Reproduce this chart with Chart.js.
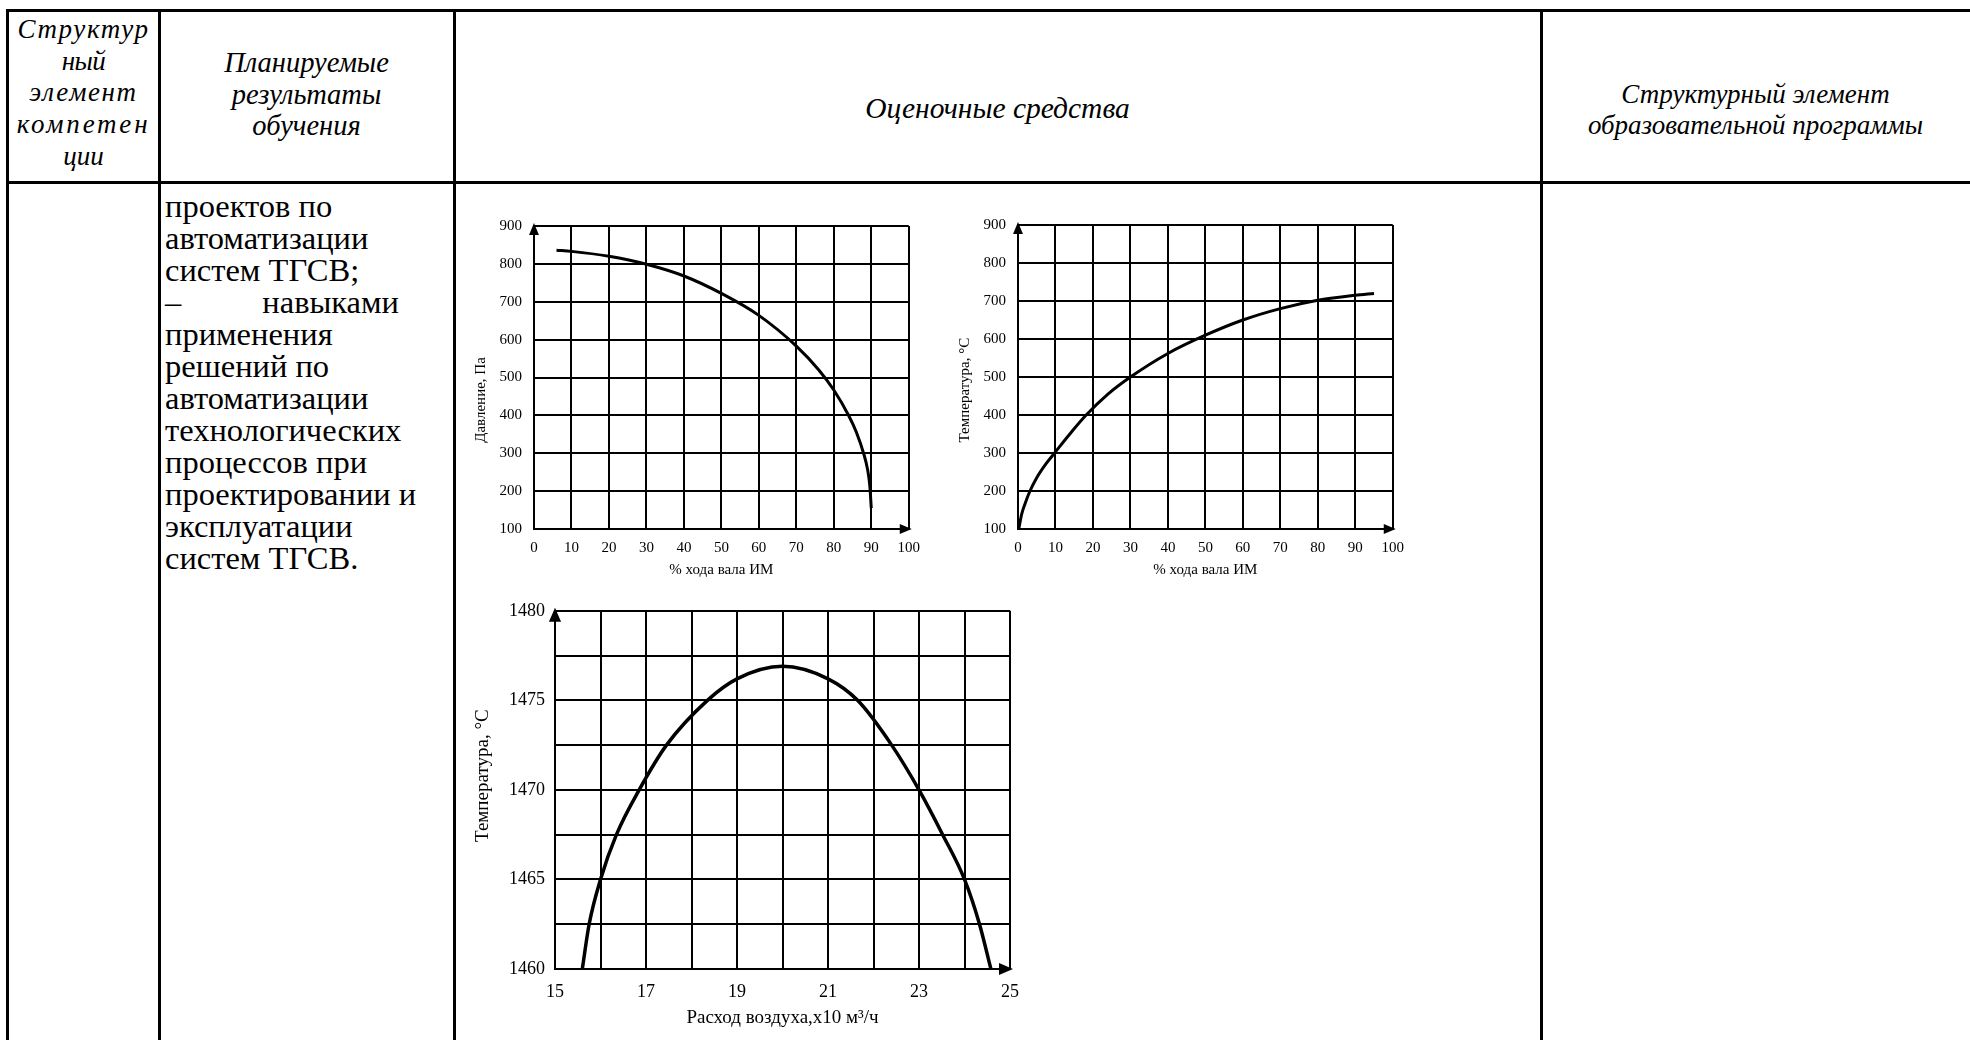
<!DOCTYPE html>
<html lang="ru">
<head>
<meta charset="utf-8">
<title>Оценочные средства</title>
<script src="https://cdn.jsdelivr.net/npm/chart.js@4.4.1/dist/chart.umd.min.js"></script>
<style>
  html, body { margin: 0; padding: 0; background: #fff; }
  #page { position: relative; width: 1970px; height: 1040px; overflow: hidden;
          font-family: 'Liberation Serif', 'Times New Roman', serif; color: #000; }
  .hl { position: absolute; height: 3px; background: #000; }
  .vl { position: absolute; width: 3px; background: #000; }
  .txt { position: absolute; white-space: nowrap; }
  .it { font-style: italic; font-size: 27px; line-height: 31.7px; text-align: center; }
  .body { font-size: 32.5px; line-height: 32px; }
  .box { position: absolute; }
</style>
</head>
<body>
<div id="page">
  <!-- рамка таблицы -->
  <div class="hl" style="left:6px;top:9px;width:1964px"></div>
  <div class="hl" style="left:6px;top:181px;width:1964px"></div>
  <div class="vl" style="left:6px;top:9px;height:1031px"></div>
  <div class="vl" style="left:158px;top:9px;height:1031px"></div>
  <div class="vl" style="left:453px;top:9px;height:1031px"></div>
  <div class="vl" style="left:1540px;top:9px;height:1031px"></div>

  <!-- шапка -->
  <div class="txt it" style="left:8px;width:151px;top:14px">
    <div style="letter-spacing:1.6px">Структур</div>
    <div style="letter-spacing:-0.5px">ный</div>
    <div style="letter-spacing:1.6px">элемент</div>
    <div style="letter-spacing:2.8px">компетен</div>
    <div>ции</div>
  </div>
  <div class="txt it" style="left:159px;width:295px;top:47px;font-size:28.5px">Планируемые<br>результаты<br>обучения</div>
  <div class="txt it" style="left:454px;width:1087px;top:93px;font-size:29.5px">Оценочные средства</div>
  <div class="txt it" style="left:1541px;width:429px;top:79px;line-height:31.4px">Структурный элемент<br>образовательной программы</div>

  <!-- текст второй колонки -->
  <div class="txt body" style="left:165px;top:190px">
    <div>проектов по</div>
    <div>автоматизации</div>
    <div>систем ТГСВ;</div>
    <div style="display:flex;justify-content:space-between;width:234px"><span>–</span><span>навыками</span></div>
    <div>применения</div>
    <div>решений по</div>
    <div>автоматизации</div>
    <div>технологических</div>
    <div>процессов при</div>
    <div>проектировании и</div>
    <div>эксплуатации</div>
    <div>систем ТГСВ.</div>
  </div>

  <div class="box" style="left:460px;top:205px;width:470px;height:380px"><canvas id="pressureChart"></canvas></div>
  <div class="box" style="left:944px;top:204px;width:470px;height:381px"><canvas id="tempChart"></canvas></div>
  <div class="box" style="left:462px;top:590px;width:575px;height:450px"><canvas id="airChart"></canvas></div>
</div>

<script>
// давление от хода вала ИМ
const pressureX = [6, 10, 20, 30, 40, 50, 60, 70, 76, 80, 84, 86, 88, 89, 89.6, 90];
const pressureY = [836, 833, 820, 799, 768, 722, 664, 583, 520, 467, 399, 356, 298, 258, 215, 155];

// температура от хода вала ИМ
const tempX = [0.2, 1, 2, 3.2, 5, 7.5, 10, 14, 18, 24, 30, 40, 50, 60, 70, 80, 90, 95];
const tempY = [100, 140, 170, 200, 235, 272, 303, 352, 398, 455, 500, 562, 610, 650, 680, 702, 715, 720];

// температура от расхода воздуха
const airX = [15.6, 15.75, 16.0, 16.35, 16.85, 17.45, 18.35, 19.0, 20.0, 21.0, 21.65, 22.4, 23.0, 23.52, 24.0, 24.33, 24.58];
const airY = [1460, 1462.5, 1465, 1467.5, 1470, 1472.5, 1475, 1476.2, 1476.9, 1476.2, 1475, 1472.5, 1470, 1467.5, 1465, 1462.5, 1460];

const FONT = "'Liberation Serif', 'Times New Roman', serif";
const NB = '\u00A0';

// стрелки на концах осей
const axisArrows = {
  id: 'axisArrows',
  afterDraw(chart, args, opts) {
    const { ctx, chartArea: a } = chart;
    const s = opts.size || 8, w = s * 0.55;
    ctx.save();
    ctx.fillStyle = '#000';
    ctx.beginPath();
    ctx.moveTo(a.left, a.top - 3);
    ctx.lineTo(a.left - w, a.top + s);
    ctx.lineTo(a.left + w, a.top + s);
    ctx.closePath();
    ctx.fill();
    ctx.beginPath();
    ctx.moveTo(a.right + 3, a.bottom);
    ctx.lineTo(a.right - s, a.bottom - w);
    ctx.lineTo(a.right - s, a.bottom + w);
    ctx.closePath();
    ctx.fill();
    ctx.restore();
  }
};

function makeChart(id, xs, ys, o) {
  const points = xs.map((x, i) => ({ x: x, y: ys[i] }));
  return new Chart(document.getElementById(id), {
    type: 'line',
    data: {
      datasets: [{
        data: points,
        borderColor: '#000',
        borderWidth: o.lineWidth,
        pointRadius: 0,
        cubicInterpolationMode: 'monotone',
        fill: false
      }]
    },
    options: {
      responsive: true,
      maintainAspectRatio: false,
      animation: false,
      layout: { padding: { top: o.padTop, right: o.padRight, left: 0, bottom: 0 } },
      plugins: {
        legend: { display: false },
        tooltip: { enabled: false },
        axisArrows: { size: o.arrow }
      },
      scales: {
        x: {
          type: 'linear',
          min: o.xMin, max: o.xMax,
          afterFit: s => { s.height = o.xH; },
          grid: { color: '#000', lineWidth: 2, drawTicks: false },
          border: { color: '#000', width: 2 },
          ticks: {
            stepSize: o.xStep, padding: o.xPad, maxRotation: 0, autoSkip: false,
            color: '#000', font: { family: FONT, size: o.tick },
            callback: o.xLabel || (v => v)
          },
          title: {
            display: true, text: o.xTitle, color: '#000',
            font: { family: FONT, size: o.titleSize },
            padding: { top: 0, bottom: o.xTitlePad }
          }
        },
        y: {
          min: o.yMin, max: o.yMax,
          afterFit: s => { s.width = o.yW; },
          grid: { color: '#000', lineWidth: 2, drawTicks: false },
          border: { color: '#000', width: 2 },
          ticks: {
            stepSize: o.yStep, padding: o.yPad, autoSkip: false,
            color: '#000', font: { family: FONT, size: o.tick },
            callback: o.yLabel || (v => v)
          },
          title: {
            display: true, text: o.yTitle, color: '#000',
            font: { family: FONT, size: o.titleSize },
            padding: { top: o.yTitlePad, bottom: 0 }
          }
        }
      }
    },
    plugins: [axisArrows]
  });
}

// пробелы сдвигают повернутую подпись оси вдоль оси, как в оригинале
makeChart('pressureChart', pressureX, pressureY, {
  xMin: 0, xMax: 100, xStep: 10, yMin: 100, yMax: 900, yStep: 100,
  xTitle: '% хода вала ИМ', yTitle: 'Давление, Па' + NB.repeat(12),
  padTop: 17, padRight: 15, yW: 74, xH: 56,
  tick: 15, titleSize: 15, xPad: 10, yPad: 12, xTitlePad: 6, yTitlePad: 12,
  lineWidth: 3, arrow: 9
});

makeChart('tempChart', tempX, tempY, {
  xMin: 0, xMax: 100, xStep: 10, yMin: 100, yMax: 900, yStep: 100,
  xTitle: '% хода вала ИМ', yTitle: 'Температура, °С' + NB.repeat(7),
  padTop: 17, padRight: 14, yW: 74, xH: 56,
  tick: 15, titleSize: 15, xPad: 10, yPad: 12, xTitlePad: 6, yTitlePad: 12,
  lineWidth: 3, arrow: 9
});

makeChart('airChart', airX, airY, {
  xMin: 15, xMax: 25, xStep: 1, yMin: 1460, yMax: 1480, yStep: 2.5,
  xTitle: 'Расход воздуха,х10 м³/ч', yTitle: NB.repeat(6) + 'Температура, °С',
  padTop: 18, padRight: 27, yW: 93, xH: 71,
  tick: 18, titleSize: 19, xPad: 12, yPad: 10, xTitlePad: 11, yTitlePad: 10,
  lineWidth: 3.5, arrow: 11,
  xLabel: v => (v % 2 === 1 ? v : ''),
  yLabel: v => (v % 5 === 0 ? v : '')
});
</script>
</body>
</html>
